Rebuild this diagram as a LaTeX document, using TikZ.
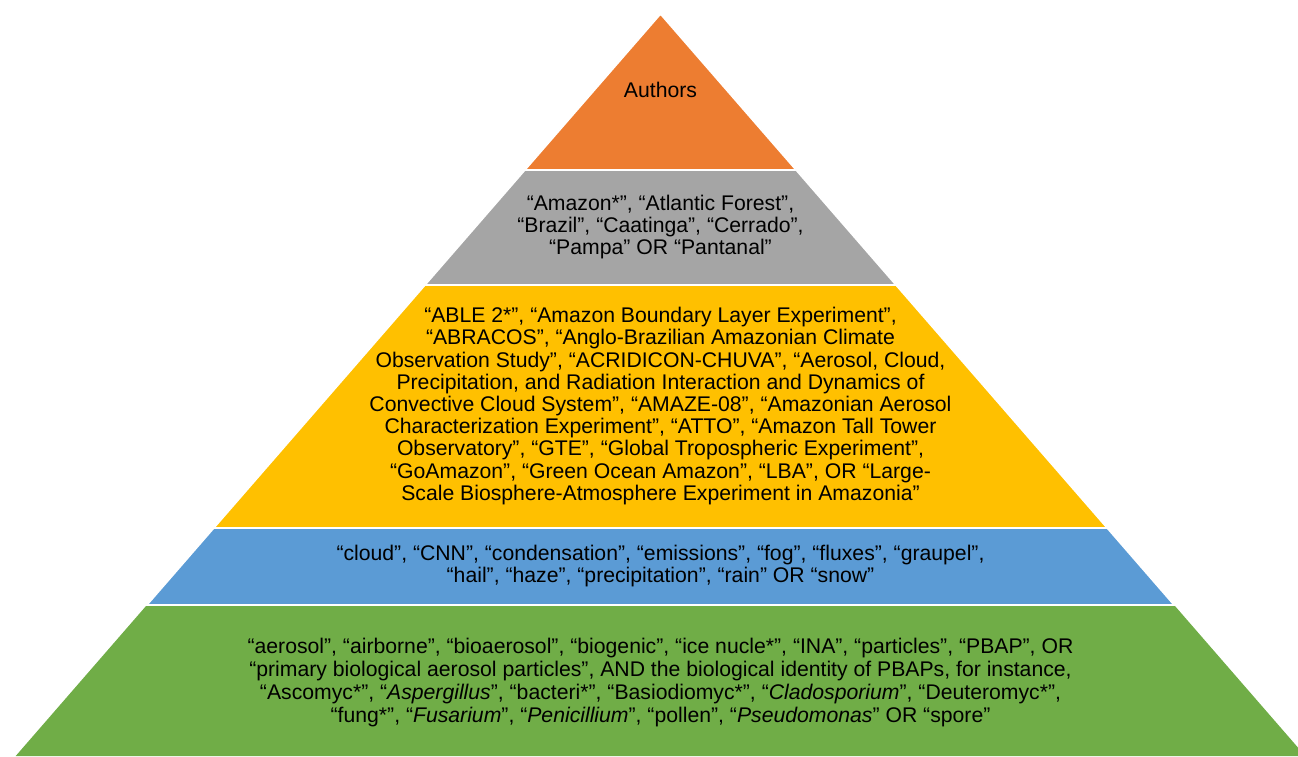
\documentclass[tikz,border=0pt]{standalone}
\usepackage{fontspec}
\setmainfont{Liberation Sans}
\definecolor{cOrange}{HTML}{ED7D31}
\definecolor{cGray}{HTML}{A5A5A5}
\definecolor{cYellow}{HTML}{FFC000}
\definecolor{cBlue}{HTML}{5B9BD5}
\definecolor{cGreen}{HTML}{70AD47}
\tikzset{
  band/.style={draw=white, line width=1.6pt, line join=miter},
  lbl/.style={align=center, inner sep=0pt, text=black, font=\fontsize{21.2}{22.2}\selectfont},
}
\begin{document}
\begin{tikzpicture}[x=1pt,y=-1pt]
\useasboundingbox (0,0) rectangle (1298,756);
\begin{scope}
\clip (0,0) rectangle (1298,756);
\fill[cGreen] (146.9,605) -- (1174.1,605) -- (1305.3,756) -- (15.7,756) -- cycle;
\draw[band, fill=cGreen] (146.9,605) -- (1174.1,605);
\draw[band, fill=cBlue] (213.8,528) -- (1107.2,528) -- (1174.1,605) -- (146.9,605) -- cycle;
\draw[band, fill=cYellow] (425.0,285) -- (896.0,285) -- (1107.2,528) -- (213.8,528) -- cycle;
\draw[band, fill=cGray] (524.9,170) -- (796.1,170) -- (896.0,285) -- (425.0,285) -- cycle;
\draw[band, fill=cOrange] (660.5,14) -- (796.1,170) -- (524.9,170) -- cycle;
\end{scope}
\node[lbl] (authors) at (660.5,90) {Authors};
\node[lbl] (biomes) at (660.5,227) {“Amazon*”, “Atlantic Forest”,\\ “Brazil”, “Caatinga”, “Cerrado”,\\ “Pampa” OR “Pantanal”};
\node[lbl] (projects) at (660.5,406) {“ABLE 2*”, “Amazon Boundary Layer Experiment”,\\
“ABRACOS”, “Anglo-Brazilian Amazonian Climate\\
Observation Study”, “ACRIDICON-CHUVA”, “Aerosol, Cloud,\\
Precipitation, and Radiation Interaction and Dynamics of\\
Convective Cloud System”, “AMAZE-08”, “Amazonian Aerosol\\
Characterization Experiment”, “ATTO”, “Amazon Tall Tower\\
Observatory”, “GTE”, “Global Tropospheric Experiment”,\\
“GoAmazon”, “Green Ocean Amazon”, “LBA”, OR “Large-\\
Scale Biosphere-Atmosphere Experiment in Amazonia”};
\node[lbl] (weather) at (660.5,566) {“cloud”, “CNN”, “condensation”, “emissions”, “fog”, “fluxes”, “graupel”,\\
“hail”, “haze”, “precipitation”, “rain” OR “snow”};
\node[lbl, font=\fontsize{21.2}{23}\selectfont] (bio) at (660.5,683) {“aerosol”, “airborne”, “bioaerosol”, “biogenic”, “ice nucle*”, “INA”, “particles”, “PBAP”, OR\\
“primary biological aerosol particles”, AND the biological identity of PBAPs, for instance,\\
“Ascomyc*”, “\textit{Aspergillus}”, “bacteri*”, “Basiodiomyc*”, “\textit{Cladosporium}”, “Deuteromyc*”,\\
“fung*”, “\textit{Fusarium}”, “\textit{Penicillium}”, “pollen”, “\textit{Pseudomonas}” OR “spore”};
\end{tikzpicture}
\end{document}
